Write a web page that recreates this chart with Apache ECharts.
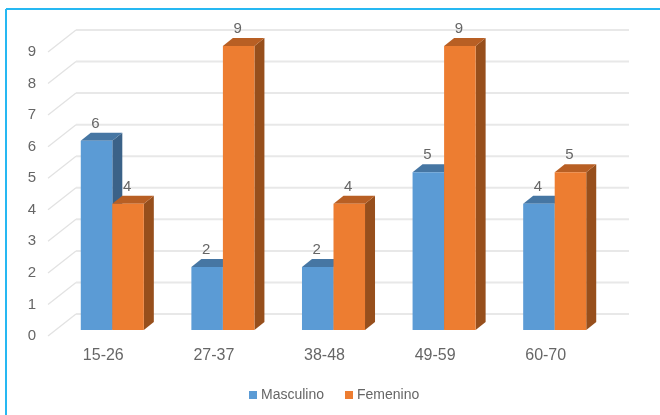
<!DOCTYPE html>
<html>
<head>
<meta charset="utf-8">
<style>html,body{margin:0;padding:0;background:#fff}#chart{width:660px;height:415px}</style>
<script src="https://cdn.jsdelivr.net/npm/echarts@6/dist/echarts.min.js"></script>
</head>
<body>
<div id="chart"></div>
<script>
const categories = ['15-26', '27-37', '38-48', '49-59', '60-70'];
const masculino = [6, 2, 2, 5, 4];
const femenino = [4, 9, 4, 9, 5];
const valueTicks = [0, 1, 2, 3, 4, 5, 6, 7, 8, 9];

// Pseudo-3D depth: back wall and bar placement relative to the axis plane
const WALL_DX = 28, WALL_DY = -22;
const BAR_DX = 9, BAR_DY = -6;
const DEPTH_DX = 10, DEPTH_DY = -8;
const BAR_WIDTH_RATIO = 0.285;
const FONT = '"Liberation Sans", Arial, sans-serif';
const TEXT_COLOR = '#666666';

const chart = echarts.init(document.getElementById('chart'), null, { renderer: 'canvas' });

function renderWall(params, api) {
  const cs = params.coordSys;
  const y = api.coord([0, api.value(1)])[1];
  return {
    type: 'group',
    children: [
      { type: 'line', shape: { x1: cs.x, y1: y, x2: cs.x + WALL_DX, y2: y + WALL_DY },
        style: { stroke: '#e2e2e2', lineWidth: 1.3 } },
      { type: 'line', shape: { x1: cs.x + WALL_DX, y1: y + WALL_DY, x2: cs.x + cs.width + WALL_DX, y2: y + WALL_DY },
        style: { stroke: '#e8e8e8', lineWidth: 2 } }
    ]
  };
}

// A box with front, top and side faces; side 0 sits left of the band centre, side 1 right
function makeBarRenderer(side, front, top, flank) {
  return function (params, api) {
    const value = api.value(1);
    const c = api.coord([api.value(0), value]);
    const base = api.coord([api.value(0), 0]);
    const w = api.size([1, 0])[0] * BAR_WIDTH_RATIO;
    const x0 = c[0] + BAR_DX + (side === 0 ? -w : 0);
    const x1 = x0 + w;
    const yt = c[1] + BAR_DY;
    const yb = base[1] + BAR_DY;
    return {
      type: 'group',
      children: [
        { type: 'polygon', shape: { points: [[x1, yt], [x1 + DEPTH_DX, yt + DEPTH_DY], [x1 + DEPTH_DX, yb + DEPTH_DY], [x1, yb]] },
          style: { fill: flank } },
        { type: 'polygon', shape: { points: [[x0, yt], [x0 + DEPTH_DX, yt + DEPTH_DY], [x1 + DEPTH_DX, yt + DEPTH_DY], [x1, yt]] },
          style: { fill: top } },
        { type: 'rect', shape: { x: x0, y: yt, width: w, height: yb - yt }, style: { fill: front } },
        { type: 'text', x: (x0 + x1) / 2 - 1, y: yt - 17,
          style: { text: String(value), fill: TEXT_COLOR, font: '15px ' + FONT, align: 'center', verticalAlign: 'middle' } }
      ]
    };
  };
}

chart.setOption({
  animation: false,
  backgroundColor: '#ffffff',
  grid: { left: 48, top: 52, width: 553, height: 284, containLabel: false },
  xAxis: {
    type: 'category',
    data: categories,
    axisLine: { show: false },
    axisTick: { show: false },
    axisLabel: { color: TEXT_COLOR, fontSize: 16, fontFamily: FONT, margin: 12 }
  },
  yAxis: {
    type: 'value',
    min: 0,
    max: 9,
    interval: 1,
    splitLine: { show: false },
    axisLine: { show: false },
    axisTick: { show: false },
    axisLabel: { color: TEXT_COLOR, fontSize: 15, fontFamily: FONT, margin: 12 }
  },
  legend: {
    data: ['Masculino', 'Femenino'],
    left: 244,
    top: 383,
    icon: 'rect',
    itemWidth: 8,
    itemHeight: 8,
    itemGap: 21,
    textStyle: { color: TEXT_COLOR, fontSize: 14, fontFamily: FONT, padding: [0, 0, 0, -1] }
  },
  graphic: [
    { type: 'line', shape: { x1: 6, y1: 9, x2: 660, y2: 9 }, style: { stroke: '#26b8f2', lineWidth: 2 } },
    { type: 'line', shape: { x1: 6, y1: 9, x2: 6, y2: 415 }, style: { stroke: '#26b8f2', lineWidth: 2 } }
  ],
  series: [
    {
      name: 'walls',
      type: 'custom',
      renderItem: renderWall,
      clip: false,
      silent: true,
      z: 1,
      encode: { x: 0, y: 1 },
      data: valueTicks.map(v => [0, v])
    },
    {
      name: 'Masculino',
      type: 'custom',
      renderItem: makeBarRenderer(0, '#5b9bd5', '#4676a3', '#3b6288'),
      itemStyle: { color: '#5b9bd5' },
      clip: false,
      z: 2,
      encode: { x: 0, y: 1 },
      data: masculino.map((v, i) => [i, v])
    },
    {
      name: 'Femenino',
      type: 'custom',
      renderItem: makeBarRenderer(1, '#ed7d31', '#b85f24', '#974f1c'),
      itemStyle: { color: '#ed7d31' },
      clip: false,
      z: 3,
      encode: { x: 0, y: 1 },
      data: femenino.map((v, i) => [i, v])
    }
  ]
});
</script>
</body>
</html>
